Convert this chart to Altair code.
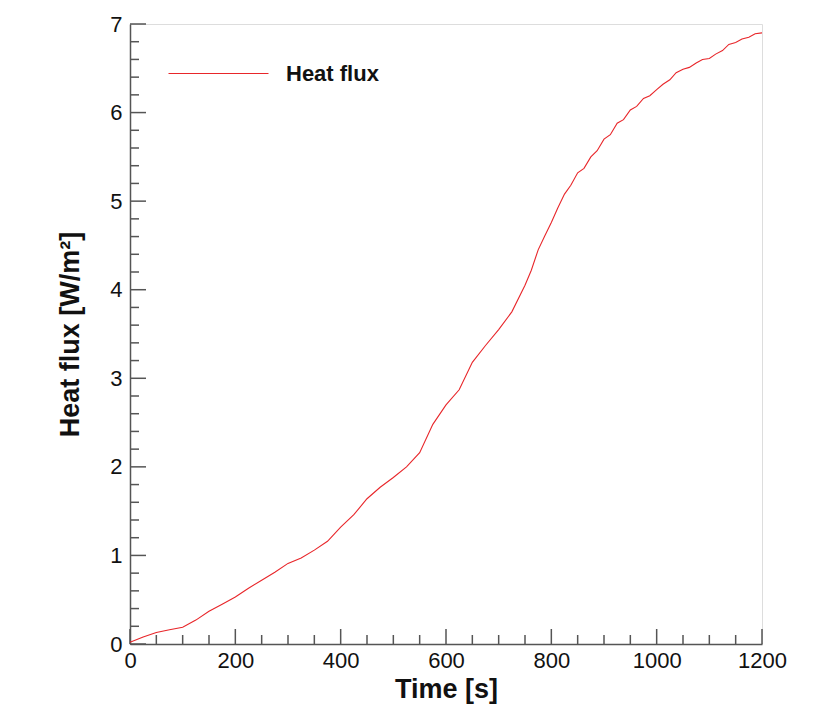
import altair as alt
import pandas as pd

# ---- data ----
time_s = [0, 25, 50, 75, 100, 125, 150, 175, 200, 225, 250, 275, 300, 325, 350,
          375, 400, 425, 450, 475, 500, 525, 550, 575, 600, 625, 650, 675, 700,
          725, 750, 762, 775, 787, 800, 812, 825, 837, 850, 862, 875, 887, 900,
          912, 925, 937, 950, 962, 975, 987, 1000, 1012, 1025, 1037, 1050,
          1062, 1075, 1087, 1100, 1112, 1125, 1137, 1150, 1162, 1175, 1187,
          1200]
heat_flux = [0.02, 0.08, 0.13, 0.16, 0.19, 0.27, 0.37, 0.45, 0.53, 0.63, 0.72,
             0.81, 0.91, 0.97, 1.06, 1.16, 1.32, 1.46, 1.64, 1.77, 1.88, 2.00,
             2.16, 2.48, 2.70, 2.87, 3.18, 3.37, 3.55, 3.75, 4.05, 4.22, 4.45,
             4.60, 4.76, 4.92, 5.08, 5.18, 5.32, 5.37, 5.50, 5.57, 5.70, 5.75,
             5.88, 5.92, 6.03, 6.07, 6.16, 6.19, 6.26, 6.32, 6.37, 6.45, 6.49,
             6.51, 6.56, 6.60, 6.61, 6.66, 6.70, 6.77, 6.79, 6.83, 6.85, 6.89,
             6.90]
series_name = "Heat flux"

x_major = [0, 200, 400, 600, 800, 1000, 1200]
x_minor = [50, 100, 150, 250, 300, 350, 450, 500, 550, 650, 700, 750, 850,
           900, 950, 1050, 1100, 1150]
y_major = [0, 1, 2, 3, 4, 5, 6, 7]
y_minor = [0.2, 0.4, 0.6, 0.8, 1.2, 1.4, 1.6, 1.8, 2.2, 2.4, 2.6, 2.8, 3.2,
           3.4, 3.6, 3.8, 4.2, 4.4, 4.6, 4.8, 5.2, 5.4, 5.6, 5.8, 6.2, 6.4,
           6.6, 6.8]

FONT = "Liberation Sans"
AX = "#555555"
W, H = 632, 620

df = pd.DataFrame({"t": time_s, "q": heat_flux, "s": series_name})

xs = alt.Scale(domain=[0, 1200], nice=False)
ys = alt.Scale(domain=[0, 7], nice=False)

line = alt.Chart(df).mark_line(strokeWidth=1.1).encode(
    x=alt.X("t:Q", scale=xs,
            axis=alt.Axis(title="Time [s]", values=x_major, format="d",
                          ticks=False, grid=False, labelPadding=6,
                          titlePadding=5, labelFontSize=22,
                          titleFontSize=27, titleFontWeight="bold",
                          labelFont=FONT, titleFont=FONT, domainColor=AX,
                          domainWidth=1.5, labelColor="#111",
                          titleColor="#111", labelFlush=False)),
    y=alt.Y("q:Q", scale=ys,
            axis=alt.Axis(title="Heat flux  [W/m²]", values=y_major,
                          format="d", ticks=False, grid=False,
                          labelPadding=8, titlePadding=25, labelFontSize=22,
                          titleFontSize=27, titleFontWeight="bold",
                          labelFont=FONT, titleFont=FONT, domainColor=AX,
                          domainWidth=1.5, labelColor="#111",
                          titleColor="#111", labelFlush=False)),
    color=alt.Color("s:N", scale=alt.Scale(range=["#e8262a"]),
                    legend=alt.Legend(title=None, orient="none", legendX=38,
                                      legendY=-1, symbolType="stroke",
                                      symbolSize=10000, symbolStrokeWidth=1,
                                      labelFontSize=22,
                                      labelFontWeight="bold", labelFont=FONT,
                                      labelColor="#111", labelOffset=17,
                                      padding=0)),
)

xmaj = alt.Chart(pd.DataFrame({"t": x_major})).mark_rule(
    color=AX, strokeWidth=1.5).encode(
    x=alt.X("t:Q", scale=xs), y=alt.value(H), y2=alt.value(H - 15))
xmin = alt.Chart(pd.DataFrame({"t": x_minor})).mark_rule(
    color=AX, strokeWidth=1.5).encode(
    x=alt.X("t:Q", scale=xs), y=alt.value(H), y2=alt.value(H - 9))
ymaj = alt.Chart(pd.DataFrame({"q": y_major})).mark_rule(
    color=AX, strokeWidth=1.5).encode(
    y=alt.Y("q:Q", scale=ys), x=alt.value(0), x2=alt.value(16))
ymin = alt.Chart(pd.DataFrame({"q": y_minor})).mark_rule(
    color=AX, strokeWidth=1.5).encode(
    y=alt.Y("q:Q", scale=ys), x=alt.value(0), x2=alt.value(9))

chart = alt.layer(xmin, xmaj, ymin, ymaj, line).properties(
    width=W, height=H,
    autosize=alt.AutoSizeParams(type="none"),
    padding={"left": 130, "top": 24, "right": 75, "bottom": 83},
).configure_view(stroke=AX, strokeWidth=1.5).configure(background="white")

chart.save("out.html", embed_options={"renderer": "svg", "actions": False})
